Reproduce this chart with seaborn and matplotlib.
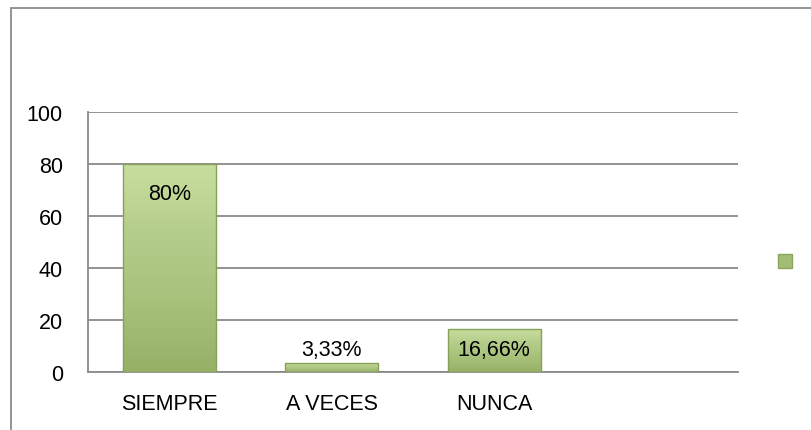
import numpy as np
import pandas as pd
import seaborn as sns
import matplotlib.pyplot as plt
from matplotlib import font_manager as fm
from matplotlib.lines import Line2D
from matplotlib.patches import Patch
from matplotlib.colors import LinearSegmentedColormap

# chart data
categories = ["SIEMPRE", "A VECES", "NUNCA"]
values = [80, 3.33, 16.66]
value_labels = ["80%", "3,33%", "16,66%"]
yticks = [0, 20, 40, 60, 80, 100]

sns.set_style("white")

try:
    fm.findfont("Liberation Sans Narrow", fallback_to_default=False)
    family = ["Liberation Sans Narrow", "Liberation Sans", "DejaVu Sans"]
    fsize = 17.5
except ValueError:
    family = ["Liberation Sans", "DejaVu Sans"]
    fsize = 15.5
plt.rcParams["font.family"] = family

W, H = 812, 431
fig = plt.figure(figsize=(W / 100, H / 100), dpi=100)
ax = fig.add_axes([88 / W, (H - 373) / H, (738 - 88) / W, 260 / H])

df = pd.DataFrame({"cat": categories, "val": values})
sns.barplot(data=df, x="cat", y="val", color="#a9c47f", width=0.575,
            saturation=1, ax=ax, zorder=3)

ax.set_xlim(-0.5, 3.5)
ax.set_ylim(0, 100)
ax.set_yticks(yticks)
ax.set_xticks(range(4))
ax.set_xticklabels(categories + [""])
ax.set_xlabel("")
ax.set_ylabel("")
ax.yaxis.grid(True, color="#8a8a8a", linewidth=1.3, zorder=0)
ax.set_axisbelow(True)
for s in ["top", "right"]:
    ax.spines[s].set_visible(False)
for s in ["left", "bottom"]:
    ax.spines[s].set_color("#8a8a8a")
    ax.spines[s].set_linewidth(1.3)
ax.tick_params(axis="y", length=0, pad=18, labelsize=fsize, colors="black")
ax.tick_params(axis="x", length=0, pad=15, labelsize=fsize, colors="black")

# vertical gradient fill like the office bevel look
cmap = LinearSegmentedColormap.from_list("grn", ["#96b166", "#a7c17b", "#b5cd8b", "#c8de9f"])
grad = np.linspace(0, 1, 256).reshape(-1, 1)
for p in list(ax.patches):
    x0, y0 = p.get_x(), p.get_y()
    w, h = p.get_width(), p.get_height()
    im = ax.imshow(grad, cmap=cmap, origin="lower", aspect="auto",
                   extent=[x0, x0 + w, y0, y0 + h], zorder=3.5)
    im.set_clip_path(p)
    p.set_edgecolor("#86a158")
    p.set_linewidth(1.0)
    p.set_zorder(3.6)
    p.set_facecolor("none")
ax.set_xlim(-0.5, 3.5)
ax.set_ylim(0, 100)

for i, (v, lab) in enumerate(zip(values, value_labels)):
    ax.text(i, max(v - 11.5, 8.8), lab, ha="center", va="center",
            fontsize=fsize, color="black", zorder=5)

# legend marker with no text
fig.legend(handles=[Patch(facecolor="#a3bd76", edgecolor="#8ba65c")], labels=[""],
           loc="center", bbox_to_anchor=(785 / W, (H - 262) / H), frameon=False,
           handlelength=1.05, handleheight=1.2, handletextpad=0, borderpad=0,
           fontsize=10)

# outer chart frame (cropped on right and bottom)
fig.add_artist(Line2D([11 / W, 11 / W], [0, 1 - 9 / H], color="#8c8c8c", linewidth=1.3,
                      transform=fig.transFigure))
fig.add_artist(Line2D([11 / W, 1], [1 - 9 / H, 1 - 9 / H], color="#8c8c8c", linewidth=1.3,
                      transform=fig.transFigure))

fig.savefig("out.png", dpi=100)
